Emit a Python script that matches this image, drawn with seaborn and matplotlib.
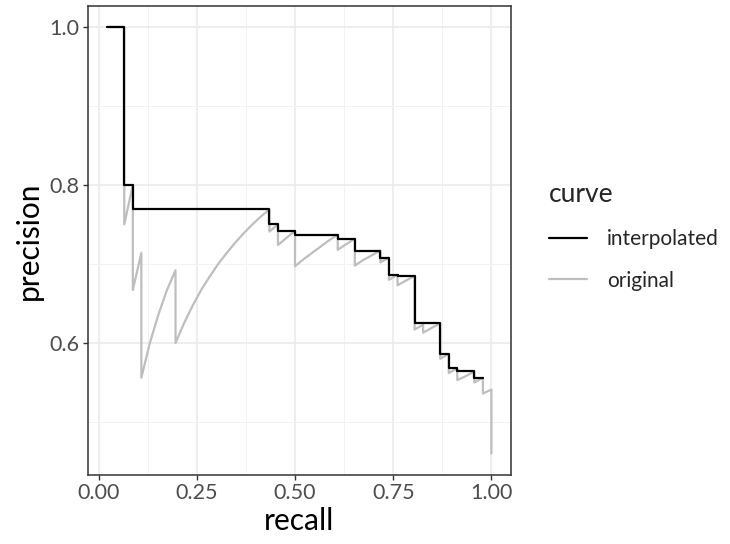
import matplotlib
matplotlib.use("Agg")
import matplotlib.pyplot as plt
from matplotlib.lines import Line2D
from matplotlib.ticker import MultipleLocator
import seaborn as sns
import pandas as pd

# original precision/recall curve (corner points)
orig_recall = [0.0217, 0.0435, 0.0652, 0.0652, 0.0870, 0.0870, 0.1087, 0.1087,
               0.1304, 0.1522, 0.1739, 0.1957, 0.1957, 0.2174, 0.2391, 0.2609,
               0.2826, 0.3043, 0.3261, 0.3478, 0.3696, 0.3913, 0.4130, 0.4348,
               0.4348, 0.4565, 0.4565, 0.4783, 0.5000, 0.5000, 0.5217, 0.5435,
               0.5652, 0.5870, 0.6087, 0.6087, 0.6304, 0.6522, 0.6522, 0.6739,
               0.6957, 0.7174, 0.7174, 0.7391, 0.7391, 0.7609, 0.7609, 0.7826,
               0.8043, 0.8043, 0.8261, 0.8261, 0.8478, 0.8696, 0.8696, 0.8913,
               0.8913, 0.9130, 0.9130, 0.9348, 0.9565, 0.9565, 0.9783, 0.9783,
               1.0000, 1.0000]
orig_precision = [1.000, 1.000, 1.000, 0.750, 0.800, 0.667, 0.714, 0.556,
                  0.600, 0.636, 0.667, 0.692, 0.600, 0.625, 0.647, 0.667,
                  0.684, 0.700, 0.714, 0.727, 0.739, 0.750, 0.760, 0.769,
                  0.741, 0.750, 0.724, 0.733, 0.742, 0.697, 0.706, 0.714,
                  0.722, 0.730, 0.737, 0.718, 0.725, 0.732, 0.698, 0.705,
                  0.711, 0.717, 0.702, 0.708, 0.680, 0.686, 0.673, 0.679,
                  0.685, 0.617, 0.623, 0.613, 0.619, 0.625, 0.580, 0.586,
                  0.562, 0.568, 0.553, 0.558, 0.564, 0.550, 0.556, 0.536,
                  0.541, 0.460]

# interpolated curve (step points)
interp_recall = [0.0217, 0.0652, 0.0870, 0.4348, 0.4565, 0.5000, 0.6087, 0.6522,
                 0.7174, 0.7391, 0.7609, 0.8043, 0.8696, 0.8913, 0.9130, 0.9565,
                 0.9783]
interp_precision = [1.000, 0.800, 0.769, 0.750, 0.742, 0.737, 0.732, 0.717,
                    0.708, 0.686, 0.685, 0.625, 0.586, 0.568, 0.564, 0.556,
                    0.556]

curve_labels = ["interpolated", "original"]
curve_colors = ["#000000", "#BEBEBE"]

orig = pd.DataFrame({"recall": orig_recall, "precision": orig_precision})
interp = pd.DataFrame({"recall": interp_recall, "precision": interp_precision})

sns.set_theme(style="white")
plt.rcParams["font.family"] = ["Lato", "DejaVu Sans"]

fig = plt.figure(figsize=(7.3, 5.44), dpi=100)
ax = fig.add_axes([0.1205, 0.127, 0.579, 0.8627])

sns.lineplot(data=orig, x="recall", y="precision", ax=ax, color=curve_colors[1],
             lw=1.6, sort=False, estimator=None)
sns.lineplot(data=interp, x="recall", y="precision", ax=ax, color=curve_colors[0],
             lw=1.6, sort=False, estimator=None, drawstyle="steps-post")

ax.set_xlim(-0.0272, 1.0489)
ax.set_ylim(0.433, 1.027)
ax.xaxis.set_major_locator(MultipleLocator(0.25))
ax.xaxis.set_minor_locator(MultipleLocator(0.125))
ax.yaxis.set_major_locator(MultipleLocator(0.2))
ax.yaxis.set_minor_locator(MultipleLocator(0.1))
ax.xaxis.set_major_formatter(matplotlib.ticker.FormatStrFormatter("%.2f"))
ax.yaxis.set_major_formatter(matplotlib.ticker.FormatStrFormatter("%.1f"))

ax.set_axisbelow(True)
ax.grid(which="major", color="#EBEBEB", lw=1.2)
ax.grid(which="minor", color="#F2F2F2", lw=0.7)
for s in ax.spines.values():
    s.set_color("#333333")
    s.set_linewidth(1.1)
ax.tick_params(which="major", direction="out", length=3.5, width=1.0,
               color="#333333", labelcolor="#4D4D4D", labelsize=15.5, pad=2.5,
               bottom=True, left=True)
ax.tick_params(which="minor", length=0)

ax.set_xlabel("recall", fontsize=21.5, color="black", labelpad=3)
ax.set_ylabel("precision", fontsize=21.5, color="black", labelpad=5)

handles = [Line2D([], [], color=c, lw=1.6) for c in curve_colors]
leg = fig.legend(handles, curve_labels, title="curve", loc="upper left",
                 bbox_to_anchor=(0.726, 0.70), frameon=False, fontsize=15,
                 title_fontsize=19, handlelength=1.85, handletextpad=0.95,
                 labelspacing=1.05, alignment="left")

fig.savefig("out.png", dpi=100)
